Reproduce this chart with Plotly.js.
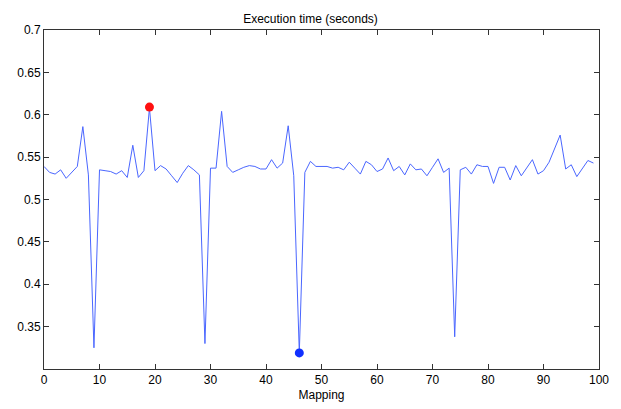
<!DOCTYPE html>
<html>
<head>
<meta charset="utf-8">
<script src="https://cdn.plot.ly/plotly-3.0.1.min.js"></script>
<style>html,body{margin:0;padding:0;background:#fff;}#chart{width:621px;height:409px;}</style>
</head>
<body>
<div id="chart"></div>
<script>
var mapping = [];
for (var k = 0; k < 100; k++) mapping.push(k);
var execTime = [
  0.539, 0.532, 0.530, 0.535, 0.525, 0.532, 0.539, 0.586, 0.529, 0.325,
  0.535, 0.534, 0.533, 0.530, 0.534, 0.526, 0.564, 0.526, 0.534, 0.608,
  0.534, 0.540, 0.536, 0.528, 0.520, 0.531, 0.540, 0.535, 0.529, 0.330,
  0.537, 0.537, 0.604, 0.539, 0.532, 0.535, 0.538, 0.540, 0.539, 0.536,
  0.536, 0.547, 0.537, 0.543, 0.587, 0.528, 0.319, 0.532, 0.545, 0.539,
  0.539, 0.539, 0.537, 0.538, 0.535, 0.544, 0.537, 0.530, 0.545, 0.541,
  0.533, 0.536, 0.549, 0.534, 0.539, 0.529, 0.542, 0.535, 0.536, 0.528,
  0.538, 0.548, 0.532, 0.537, 0.338, 0.535, 0.538, 0.530, 0.541, 0.539,
  0.539, 0.519, 0.538, 0.538, 0.523, 0.540, 0.528, 0.538, 0.547, 0.530,
  0.534, 0.544, 0.560, 0.576, 0.536, 0.541, 0.527, 0.536, 0.546, 0.543
];
var maxX = [19];
var maxY = [0.609];
var minX = [46];
var minY = [0.319];
var yTicks = [0.35, 0.4, 0.45, 0.5, 0.55, 0.6, 0.65, 0.7];
var yTickText = ['0.35', '0.4', '0.45', '0.5', '0.55', '0.6', '0.65', '0.7'];

var traces = [
  {x: mapping, y: execTime, type: 'scatter', mode: 'lines',
   line: {color: '#4a66ff', width: 1}, hoverinfo: 'x+y'},
  {x: maxX, y: maxY, type: 'scatter', mode: 'markers',
   marker: {color: '#ff1010', size: 9}},
  {x: minX, y: minY, type: 'scatter', mode: 'markers',
   marker: {color: '#1030ff', size: 9}}
];

var axisCommon = {
  showgrid: false, zeroline: false, showline: true, linecolor: '#333',
  linewidth: 1, mirror: 'ticks', ticks: 'inside', ticklen: 5, tickcolor: '#333',
  tickfont: {family: 'Liberation Sans, Arial, sans-serif', size: 12, color: '#000'}
};

var layout = {
  width: 621, height: 409,
  margin: {l: 44, r: 22, t: 30, b: 40},
  paper_bgcolor: '#fff', plot_bgcolor: '#fff',
  showlegend: false,
  title: {text: 'Execution time (seconds)', x: 0.5, xanchor: 'center', y: 0.955, yanchor: 'middle',
          font: {family: 'Liberation Sans, Arial, sans-serif', size: 12, color: '#000'}},
  xaxis: Object.assign({}, axisCommon, {
    range: [0, 100], tickmode: 'linear', tick0: 0, dtick: 10,
    title: {text: 'Mapping', standoff: 4, font: {family: 'Liberation Sans, Arial, sans-serif', size: 12, color: '#000'}}
  }),
  yaxis: Object.assign({}, axisCommon, {
    range: [0.3, 0.7], tickmode: 'array', tickvals: yTicks, ticktext: yTickText
  })
};

Plotly.newPlot('chart', traces, layout, {displayModeBar: false, staticPlot: true});
</script>
</body>
</html>
